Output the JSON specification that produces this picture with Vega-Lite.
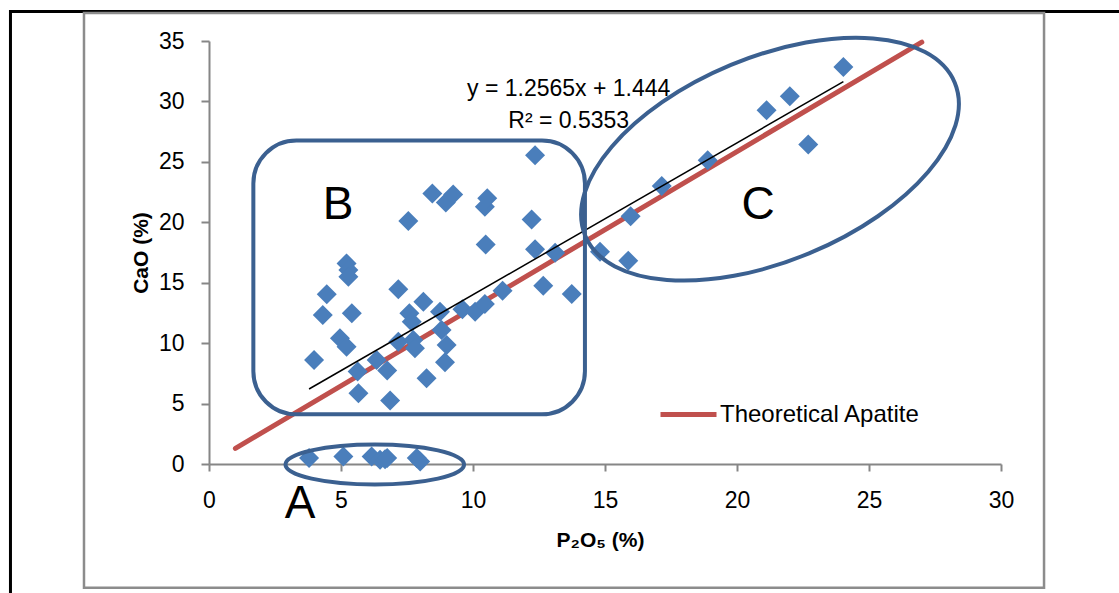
{
  "$schema": "https://vega.github.io/schema/vega-lite/v6.json",
  "width": 792,
  "height": 423,
  "autosize": {"type": "none"},
  "padding": {"left": 209, "top": 41, "right": 118, "bottom": 129},
  "background": "white",
  "data": {"values": [{}]},
  "config": {
    "view": {"stroke": null},
    "font": "Liberation Sans",
    "axis": {
      "grid": false,
      "labelFlush": false,
      "domainColor": "#868686",
      "domainWidth": 2,
      "tickColor": "#868686",
      "tickWidth": 2,
      "labelFont": "Liberation Sans",
      "labelFontSize": 23,
      "labelColor": "#000000",
      "titleFont": "Liberation Sans",
      "titleFontSize": 21,
      "titleFontWeight": "bold",
      "titleColor": "#000000"
    }
  },
  "datasets": {
    "samples": [
      {"P2O5": 3.79, "CaO": 0.49}, {"P2O5": 5.09, "CaO": 0.62}, {"P2O5": 6.16, "CaO": 0.62},
      {"P2O5": 6.48, "CaO": 0.35}, {"P2O5": 6.67, "CaO": 0.40}, {"P2O5": 6.75, "CaO": 0.49},
      {"P2O5": 7.87, "CaO": 0.49}, {"P2O5": 8.0, "CaO": 0.2},
      {"P2O5": 3.98, "CaO": 8.61}, {"P2O5": 4.31, "CaO": 12.33}, {"P2O5": 4.46, "CaO": 14.04},
      {"P2O5": 4.96, "CaO": 10.4}, {"P2O5": 5.21, "CaO": 9.71}, {"P2O5": 5.21, "CaO": 16.6},
      {"P2O5": 5.28, "CaO": 16.05}, {"P2O5": 5.28, "CaO": 15.5}, {"P2O5": 5.41, "CaO": 12.47},
      {"P2O5": 5.63, "CaO": 7.65}, {"P2O5": 5.66, "CaO": 5.86}, {"P2O5": 6.35, "CaO": 8.61},
      {"P2O5": 6.75, "CaO": 7.73}, {"P2O5": 6.86, "CaO": 5.25}, {"P2O5": 7.17, "CaO": 14.45},
      {"P2O5": 7.17, "CaO": 10.12}, {"P2O5": 7.55, "CaO": 20.1}, {"P2O5": 7.59, "CaO": 12.47},
      {"P2O5": 7.68, "CaO": 11.78}, {"P2O5": 7.74, "CaO": 10.26}, {"P2O5": 7.8, "CaO": 9.58},
      {"P2O5": 8.12, "CaO": 13.43}, {"P2O5": 8.24, "CaO": 7.1}, {"P2O5": 8.46, "CaO": 22.39},
      {"P2O5": 8.75, "CaO": 12.6}, {"P2O5": 8.81, "CaO": 11.09}, {"P2O5": 8.94, "CaO": 8.42},
      {"P2O5": 8.97, "CaO": 21.64}, {"P2O5": 9.0, "CaO": 9.85}, {"P2O5": 9.25, "CaO": 22.3},
      {"P2O5": 9.6, "CaO": 12.8}, {"P2O5": 10.08, "CaO": 12.6}, {"P2O5": 10.45, "CaO": 13.24},
      {"P2O5": 10.45, "CaO": 21.28}, {"P2O5": 10.54, "CaO": 21.98}, {"P2O5": 10.48, "CaO": 18.17},
      {"P2O5": 11.12, "CaO": 14.34}, {"P2O5": 12.22, "CaO": 20.24}, {"P2O5": 12.35, "CaO": 25.55},
      {"P2O5": 12.35, "CaO": 17.76}, {"P2O5": 12.66, "CaO": 14.75}, {"P2O5": 13.11, "CaO": 17.48},
      {"P2O5": 13.74, "CaO": 14.07},
      {"P2O5": 14.81, "CaO": 17.56}, {"P2O5": 15.88, "CaO": 16.82}, {"P2O5": 15.97, "CaO": 20.5},
      {"P2O5": 17.15, "CaO": 23.0}, {"P2O5": 18.89, "CaO": 25.14}, {"P2O5": 21.12, "CaO": 29.27},
      {"P2O5": 22.0, "CaO": 30.43}, {"P2O5": 22.7, "CaO": 26.44}, {"P2O5": 24.03, "CaO": 32.85}
    ],
    "apatite": [
      {"P2O5": 1, "CaO": 1.29, "series": "Theoretical Apatite"},
      {"P2O5": 27, "CaO": 34.9, "series": "Theoretical Apatite"}
    ],
    "trend": [
      {"P2O5": 3.79, "CaO": 6.206},
      {"P2O5": 24.03, "CaO": 31.638}
    ],
    "groups": [
      {"group": "A", "P2O5": 3.45, "CaO": -3.3},
      {"group": "B", "P2O5": 4.89, "CaO": 21.4},
      {"group": "C", "P2O5": 20.8, "CaO": 21.4}
    ]
  },
  "layer": [
    {
      "description": "outer black frame",
      "mark": {"type": "rect", "filled": false, "color": "#000000", "strokeWidth": 3},
      "encoding": {
        "x": {"datum": -7.52, "type": "quantitative"},
        "x2": {"datum": 40},
        "y": {"datum": 37.44, "type": "quantitative"},
        "y2": {"datum": -15}
      }
    },
    {
      "description": "chart area border",
      "mark": {"type": "rect", "filled": false, "color": "#8C8C8C", "strokeWidth": 2.5},
      "encoding": {
        "x": {"datum": -4.735, "type": "quantitative"},
        "x2": {"datum": 31.63},
        "y": {"datum": 37.31, "type": "quantitative"},
        "y2": {"datum": -10.23}
      }
    },
    {
      "data": {"name": "apatite"},
      "mark": {"type": "line", "strokeWidth": 5, "strokeCap": "round"},
      "encoding": {
        "x": {"field": "P2O5", "type": "quantitative"},
        "y": {"field": "CaO", "type": "quantitative"},
        "color": {
          "field": "series",
          "type": "nominal",
          "scale": {"range": ["#C0504D"]},
          "legend": {
            "title": null,
            "orient": "none",
            "legendX": 449,
            "legendY": 343,
            "padding": 0,
            "symbolType": "stroke",
            "symbolSize": 3136,
            "symbolStrokeWidth": 5,
            "labelFont": "Liberation Sans",
            "labelFontSize": 24,
            "labelLimit": 0,
            "labelColor": "#000000",
            "labelOffset": 1
          }
        }
      }
    },
    {
      "data": {"name": "samples"},
      "mark": {"type": "point", "shape": "diamond", "size": 400, "filled": true, "color": "#4A7EBB", "opacity": 1},
      "encoding": {
        "x": {
          "field": "P2O5",
          "type": "quantitative",
          "title": "P₂O₅ (%)",
          "scale": {"domain": [0, 30], "nice": false, "zero": false},
          "axis": {
            "values": [0, 5, 10, 15, 20, 25, 30],
            "tickSize": 7,
            "labelBaseline": "alphabetic",
            "labelPadding": 36,
            "titleBaseline": "alphabetic",
            "titleX": 391,
            "titleY": 82
          }
        },
        "y": {
          "field": "CaO",
          "type": "quantitative",
          "title": "CaO (%)",
          "scale": {"domain": [0, 35], "nice": false, "zero": false},
          "axis": {
            "values": [0, 5, 10, 15, 20, 25, 30, 35],
            "tickSize": 8,
            "labelPadding": 17,
            "titleX": -62,
            "titleBaseline": "alphabetic"
          }
        }
      }
    },
    {
      "data": {"name": "trend"},
      "mark": {"type": "line", "color": "#000000", "strokeWidth": 1.5},
      "encoding": {
        "x": {"field": "P2O5", "type": "quantitative"},
        "y": {"field": "CaO", "type": "quantitative"}
      }
    },
    {
      "description": "group B outline",
      "mark": {"type": "rect", "filled": false, "color": "#3B6090", "strokeWidth": 4, "cornerRadius": 43},
      "encoding": {
        "x": {"datum": 1.68, "type": "quantitative"},
        "x2": {"datum": 14.24},
        "y": {"datum": 26.77, "type": "quantitative"},
        "y2": {"datum": 4.11}
      }
    },
    {
      "description": "group A outline",
      "mark": {
        "type": "point",
        "shape": "M-1,0C-1,-0.1237 -0.5523,-0.224 0,-0.224C0.5523,-0.224 1,-0.1237 1,0C1,0.1237 0.5523,0.224 0,0.224C-0.5523,0.224 -1,0.1237 -1,0Z",
        "size": 31898,
        "filled": false,
        "color": "#3B6090",
        "strokeWidth": 4,
        "opacity": 1
      },
      "encoding": {
        "x": {"datum": 6.28, "type": "quantitative"},
        "y": {"datum": -0.04, "type": "quantitative"}
      }
    },
    {
      "description": "group C outline",
      "mark": {
        "type": "point",
        "shape": "M-1,0C-1,-0.2817 -0.5523,-0.51 0,-0.51C0.5523,-0.51 1,-0.2817 1,0C1,0.2817 0.5523,0.51 0,0.51C-0.5523,0.51 -1,0.2817 -1,0Z",
        "size": 160000,
        "angle": 337.5,
        "filled": false,
        "color": "#3B6090",
        "strokeWidth": 4,
        "opacity": 1
      },
      "encoding": {
        "x": {"datum": 21.25, "type": "quantitative"},
        "y": {"datum": 25.22, "type": "quantitative"}
      }
    },
    {
      "data": {"name": "groups"},
      "mark": {"type": "text", "font": "Liberation Sans", "fontSize": 46, "color": "#000000", "baseline": "middle", "align": "center"},
      "encoding": {
        "x": {"field": "P2O5", "type": "quantitative"},
        "y": {"field": "CaO", "type": "quantitative"},
        "text": {"field": "group"}
      }
    },
    {
      "description": "regression equation",
      "mark": {
        "type": "text",
        "font": "Liberation Sans",
        "fontSize": 23,
        "color": "#000000",
        "align": "center",
        "baseline": "alphabetic",
        "lineHeight": 32,
        "text": ["y = 1.2565x + 1.444", "R² = 0.5353"]
      },
      "encoding": {
        "x": {"datum": 13.625, "type": "quantitative"},
        "y": {"datum": 30.43, "type": "quantitative"}
      }
    }
  ]
}
